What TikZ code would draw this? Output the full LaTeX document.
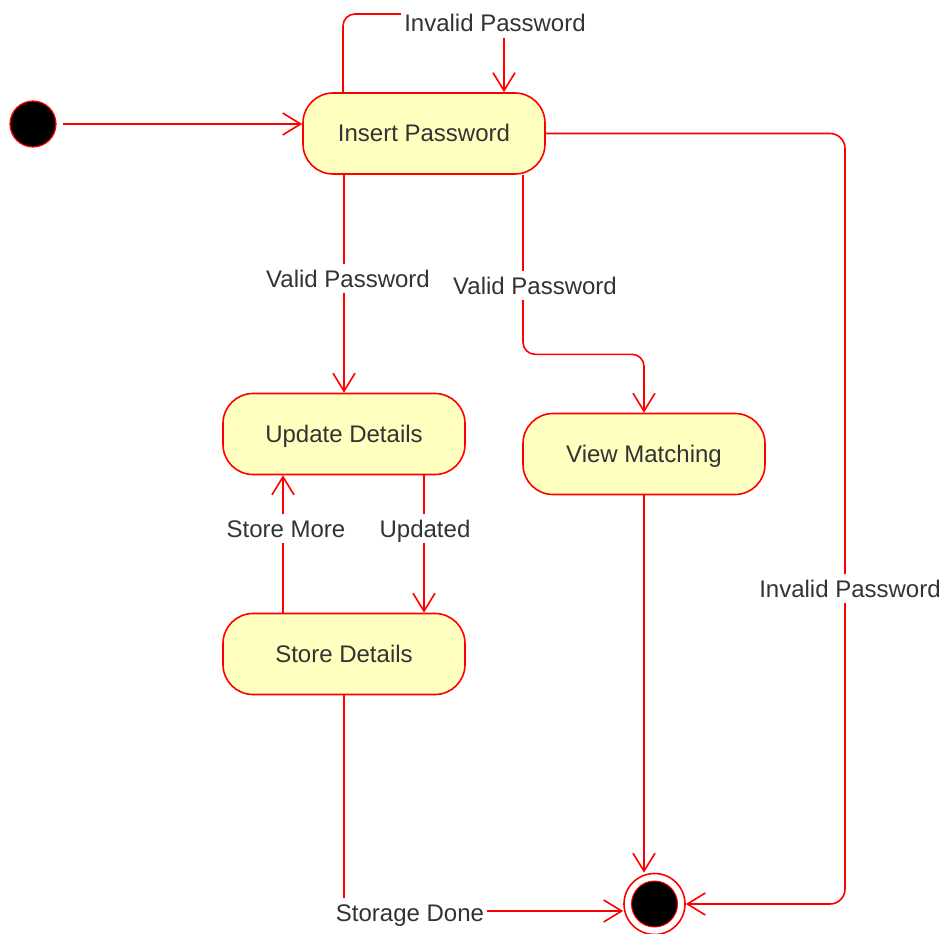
\documentclass[tikz,border=0pt]{standalone}
\usepackage{fontspec}
\setmainfont{Liberation Sans}
\usetikzlibrary{arrows.meta}
\definecolor{umlred}{HTML}{FF0000}
\definecolor{statefill}{HTML}{FFFFC0}
\definecolor{txt}{HTML}{333333}
\tikzset{
  state/.style={draw=umlred, line width=1.6pt, fill=statefill, rounded corners=30pt,
    minimum width=242pt, minimum height=81pt, text=txt, text height=17pt, text depth=0pt,
    font=\fontsize{24}{28}\selectfont},
  edge/.style={draw=umlred, line width=1.6pt,
    -{Straight Barb[length=18pt,width=22pt,line width=1.6pt]}},
  lbl/.style={fill=white, text=txt, inner xsep=3pt, inner ysep=6pt, text height=17pt, text depth=0pt,
    font=\fontsize{24}{28}\selectfont},
}
\begin{document}
\begin{tikzpicture}[x=1pt, y=-1pt]
\useasboundingbox (0,0) rectangle (946,934);

% states
\node[state] (ins)  at (424,133.5) {Insert Password};
\node[state] (upd)  at (344,434)   {Update Details};
\node[state] (view) at (644,454)   {View Matching};
\node[state] (sto)  at (344,654)   {Store Details};

% initial and final pseudo-states
\node[circle, draw=umlred, line width=1.2pt, fill=black, minimum size=46pt, inner sep=0pt] (init) at (33,124) {};
\node[circle, draw=umlred, line width=1.6pt, fill=white, minimum size=61pt, inner sep=0pt] (fin) at (654.5,904) {};
\node[circle, draw=umlred, line width=1pt, fill=black, minimum size=46pt, inner sep=0pt] (finc) at (fin) {};

% transitions
\draw[edge, shorten <=6pt] (init.east) -- (ins.west |- init);
\draw[edge, rounded corners=12pt] ([xshift=-81pt]ins.north) -- (343,14) -- (504,14) -- ([xshift=80pt]ins.north);
\draw[edge] (ins.south -| upd.north) -- (upd.north);
\draw[edge, rounded corners=12pt] ([xshift=99pt]ins.south) -- ++(0,179.5) -| (view.north);
\draw[edge, rounded corners=15pt] (ins.east) -- (845,133.5) -- (845,904) -- (fin.east);
\draw[edge] ([xshift=80pt]upd.south) -- ([xshift=80pt]sto.north);
\draw[edge] ([xshift=-61pt]sto.north) -- ([xshift=-61pt]upd.south);
\draw[edge] (view.south) -- (view.south |- fin.north);
\draw[edge] (sto.south) |- ([yshift=-7pt]fin.west);

% transition labels
\node[lbl] (l1) at (495,23.5)  {Invalid Password};
\node[lbl] (l2) at (348,278.5) {Valid Password};
\node[lbl] (l3) at (535,285.5) {Valid Password};
\node[lbl] (l4) at (286,528.5) {Store More};
\node[lbl] (l5) at (425,528.5) {Updated};
\node[lbl] (l6) at (850,588.5) {Invalid Password};
\node[lbl] (l7) at (410,912.5) {Storage Done};
\end{tikzpicture}
\end{document}
